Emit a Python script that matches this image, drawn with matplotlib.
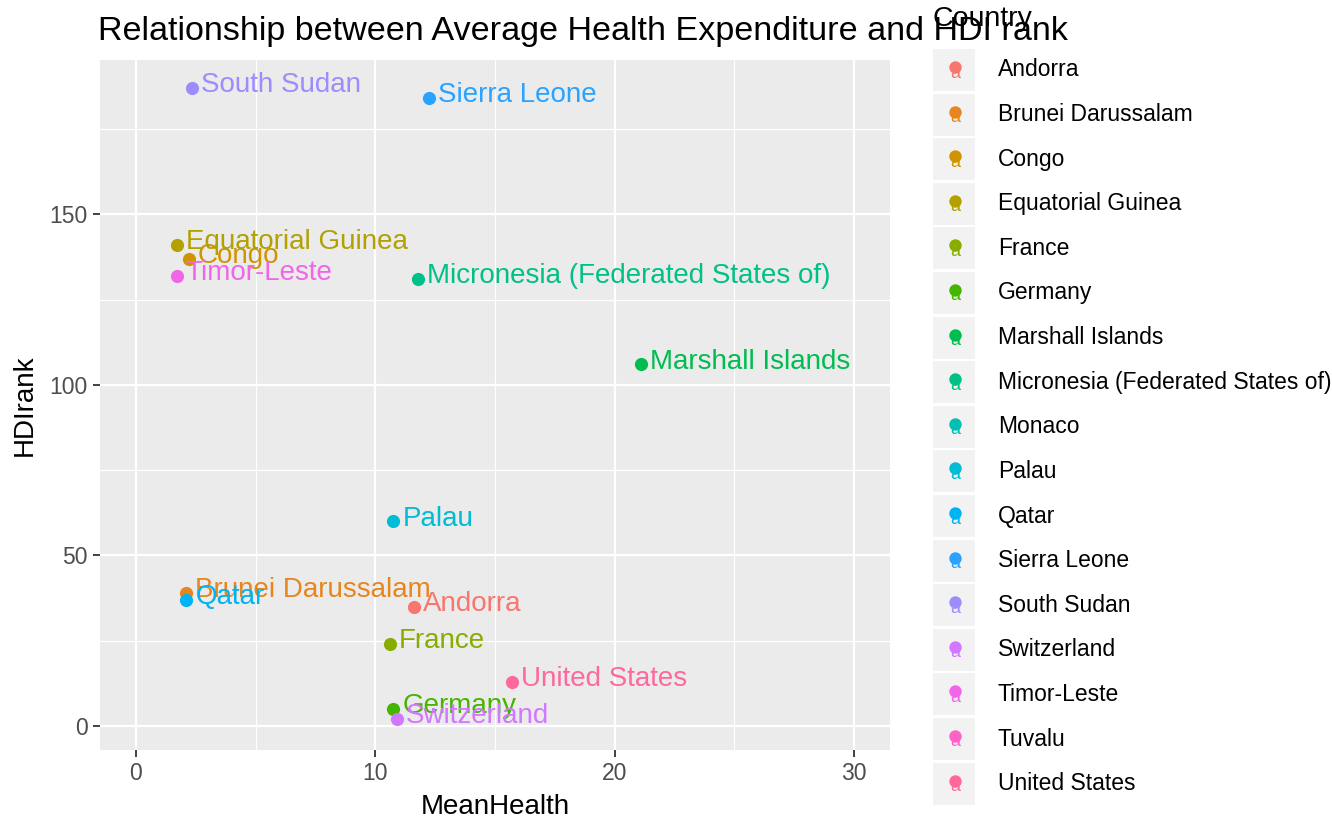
import numpy as np
import matplotlib
matplotlib.use("Agg")
import matplotlib.pyplot as plt
from matplotlib.patches import Rectangle

# data (Monaco and Tuvalu have no point drawn)
countries = ["Andorra", "Brunei Darussalam", "Congo", "Equatorial Guinea", "France",
             "Germany", "Marshall Islands", "Micronesia (Federated States of)", "Monaco",
             "Palau", "Qatar", "Sierra Leone", "South Sudan", "Switzerland",
             "Timor-Leste", "Tuvalu", "United States"]
mean_health = [11.6, 2.1, 2.2, 1.7, 10.6, 10.75, 21.1, 11.8, np.nan,
               10.75, 2.1, 12.25, 2.35, 10.9, 1.7, np.nan, 15.7]
hdi_rank = [35, 39, 137, 141, 24, 5, 106, 131, np.nan,
            60, 37, 184, 187, 2, 132, np.nan, 13]
x_ticks = [0, 10, 20, 30]
y_ticks = [0, 50, 100, 150]


def hcl_to_hex(h, c=100, l=65):
    # polar Luv -> sRGB, same as R's hcl() used by ggplot's hue palette
    hr = np.deg2rad(h)
    u, v = c * np.cos(hr), c * np.sin(hr)
    Y = 100 * ((l + 16) / 116) ** 3 if l > 8 else 100 * l / 903.3
    un, vn = 0.1978398, 0.4683363
    up = u / (13 * l) + un
    vp = v / (13 * l) + vn
    X = 9.0 * Y * up / (4 * vp)
    Z = -X / 3 - 5 * Y + 3 * Y / vp
    X, Y, Z = X / 100, Y / 100, Z / 100
    r = 3.240479 * X - 1.537150 * Y - 0.498535 * Z
    g = -0.969256 * X + 1.875992 * Y + 0.041556 * Z
    b = 0.055648 * X - 0.204043 * Y + 1.057311 * Z
    out = []
    for t in (r, g, b):
        t = 1.055 * t ** (1 / 2.4) - 0.055 if t > 0.00304 else 12.92 * t
        out.append(min(max(t, 0), 1))
    return matplotlib.colors.to_hex(out)


n = len(countries)
hues = np.linspace(15, 375, n + 1)[:n]
colors = [hcl_to_hex(h) for h in hues]

plt.rcParams["font.family"] = ["Liberation Sans", "DejaVu Sans"]

fig = plt.figure(figsize=(13.32, 8.19), dpi=100)
ax = fig.add_axes([100 / 1332, 1 - 750 / 819, 790 / 1332, 690 / 819])
ax.set_facecolor("#EBEBEB")

for name, x, y, col in zip(countries, mean_health, hdi_rank, colors):
    if np.isnan(x) or np.isnan(y):
        continue
    ax.scatter(x, y, s=90, color=col, zorder=3, linewidths=0)
    ax.annotate(name, (x, y), xytext=(6.5, -3), textcoords="offset points",
                ha="left", va="baseline", fontsize=20, color=col, zorder=4)

ax.set_xlim(-1.5, 31.5)
ax.set_ylim(-7.0, 195.2)
ax.set_xticks(x_ticks)
ax.set_yticks(y_ticks)
ax.set_xticks([5, 15, 25], minor=True)
ax.set_yticks([25, 75, 125, 175], minor=True)
ax.grid(which="major", color="white", linewidth=1.6)
ax.grid(which="minor", color="white", linewidth=0.8)
ax.set_axisbelow(True)
for s in ax.spines.values():
    s.set_visible(False)
ax.tick_params(which="major", length=5, width=1.3, color="#333333",
               labelsize=16.5, labelcolor="#4D4D4D", pad=4)
ax.tick_params(which="minor", length=0)
ax.set_xlabel("MeanHealth", fontsize=20, labelpad=6)
ax.set_ylabel("HDIrank", fontsize=20, labelpad=8)

fig.text(98 / 1332, 1 - 40 / 819, "Relationship between Average Health Expenditure and HDI rank",
         fontsize=24.6, ha="left", va="baseline")

# legend drawn by hand in pixel space
leg = fig.add_axes([0, 0, 1, 1])
leg.set_xlim(0, 1332)
leg.set_ylim(819, 0)
leg.axis("off")
leg.text(932, 26, "Country", fontsize=20.5, ha="left", va="baseline")
for i, (name, col) in enumerate(zip(countries, colors)):
    yc = 70 + i * 44.6
    leg.add_patch(Rectangle((933, yc - 21), 42, 42, facecolor="#F2F2F2", edgecolor="none"))
    leg.scatter(955, yc - 3, s=80, color=col, linewidths=0)
    leg.text(955, yc + 3, "a", fontsize=13, color=col, ha="center", va="center")
    leg.text(998, yc, name, fontsize=16.5, ha="left", va="center")

fig.savefig("out.png", dpi=100)
